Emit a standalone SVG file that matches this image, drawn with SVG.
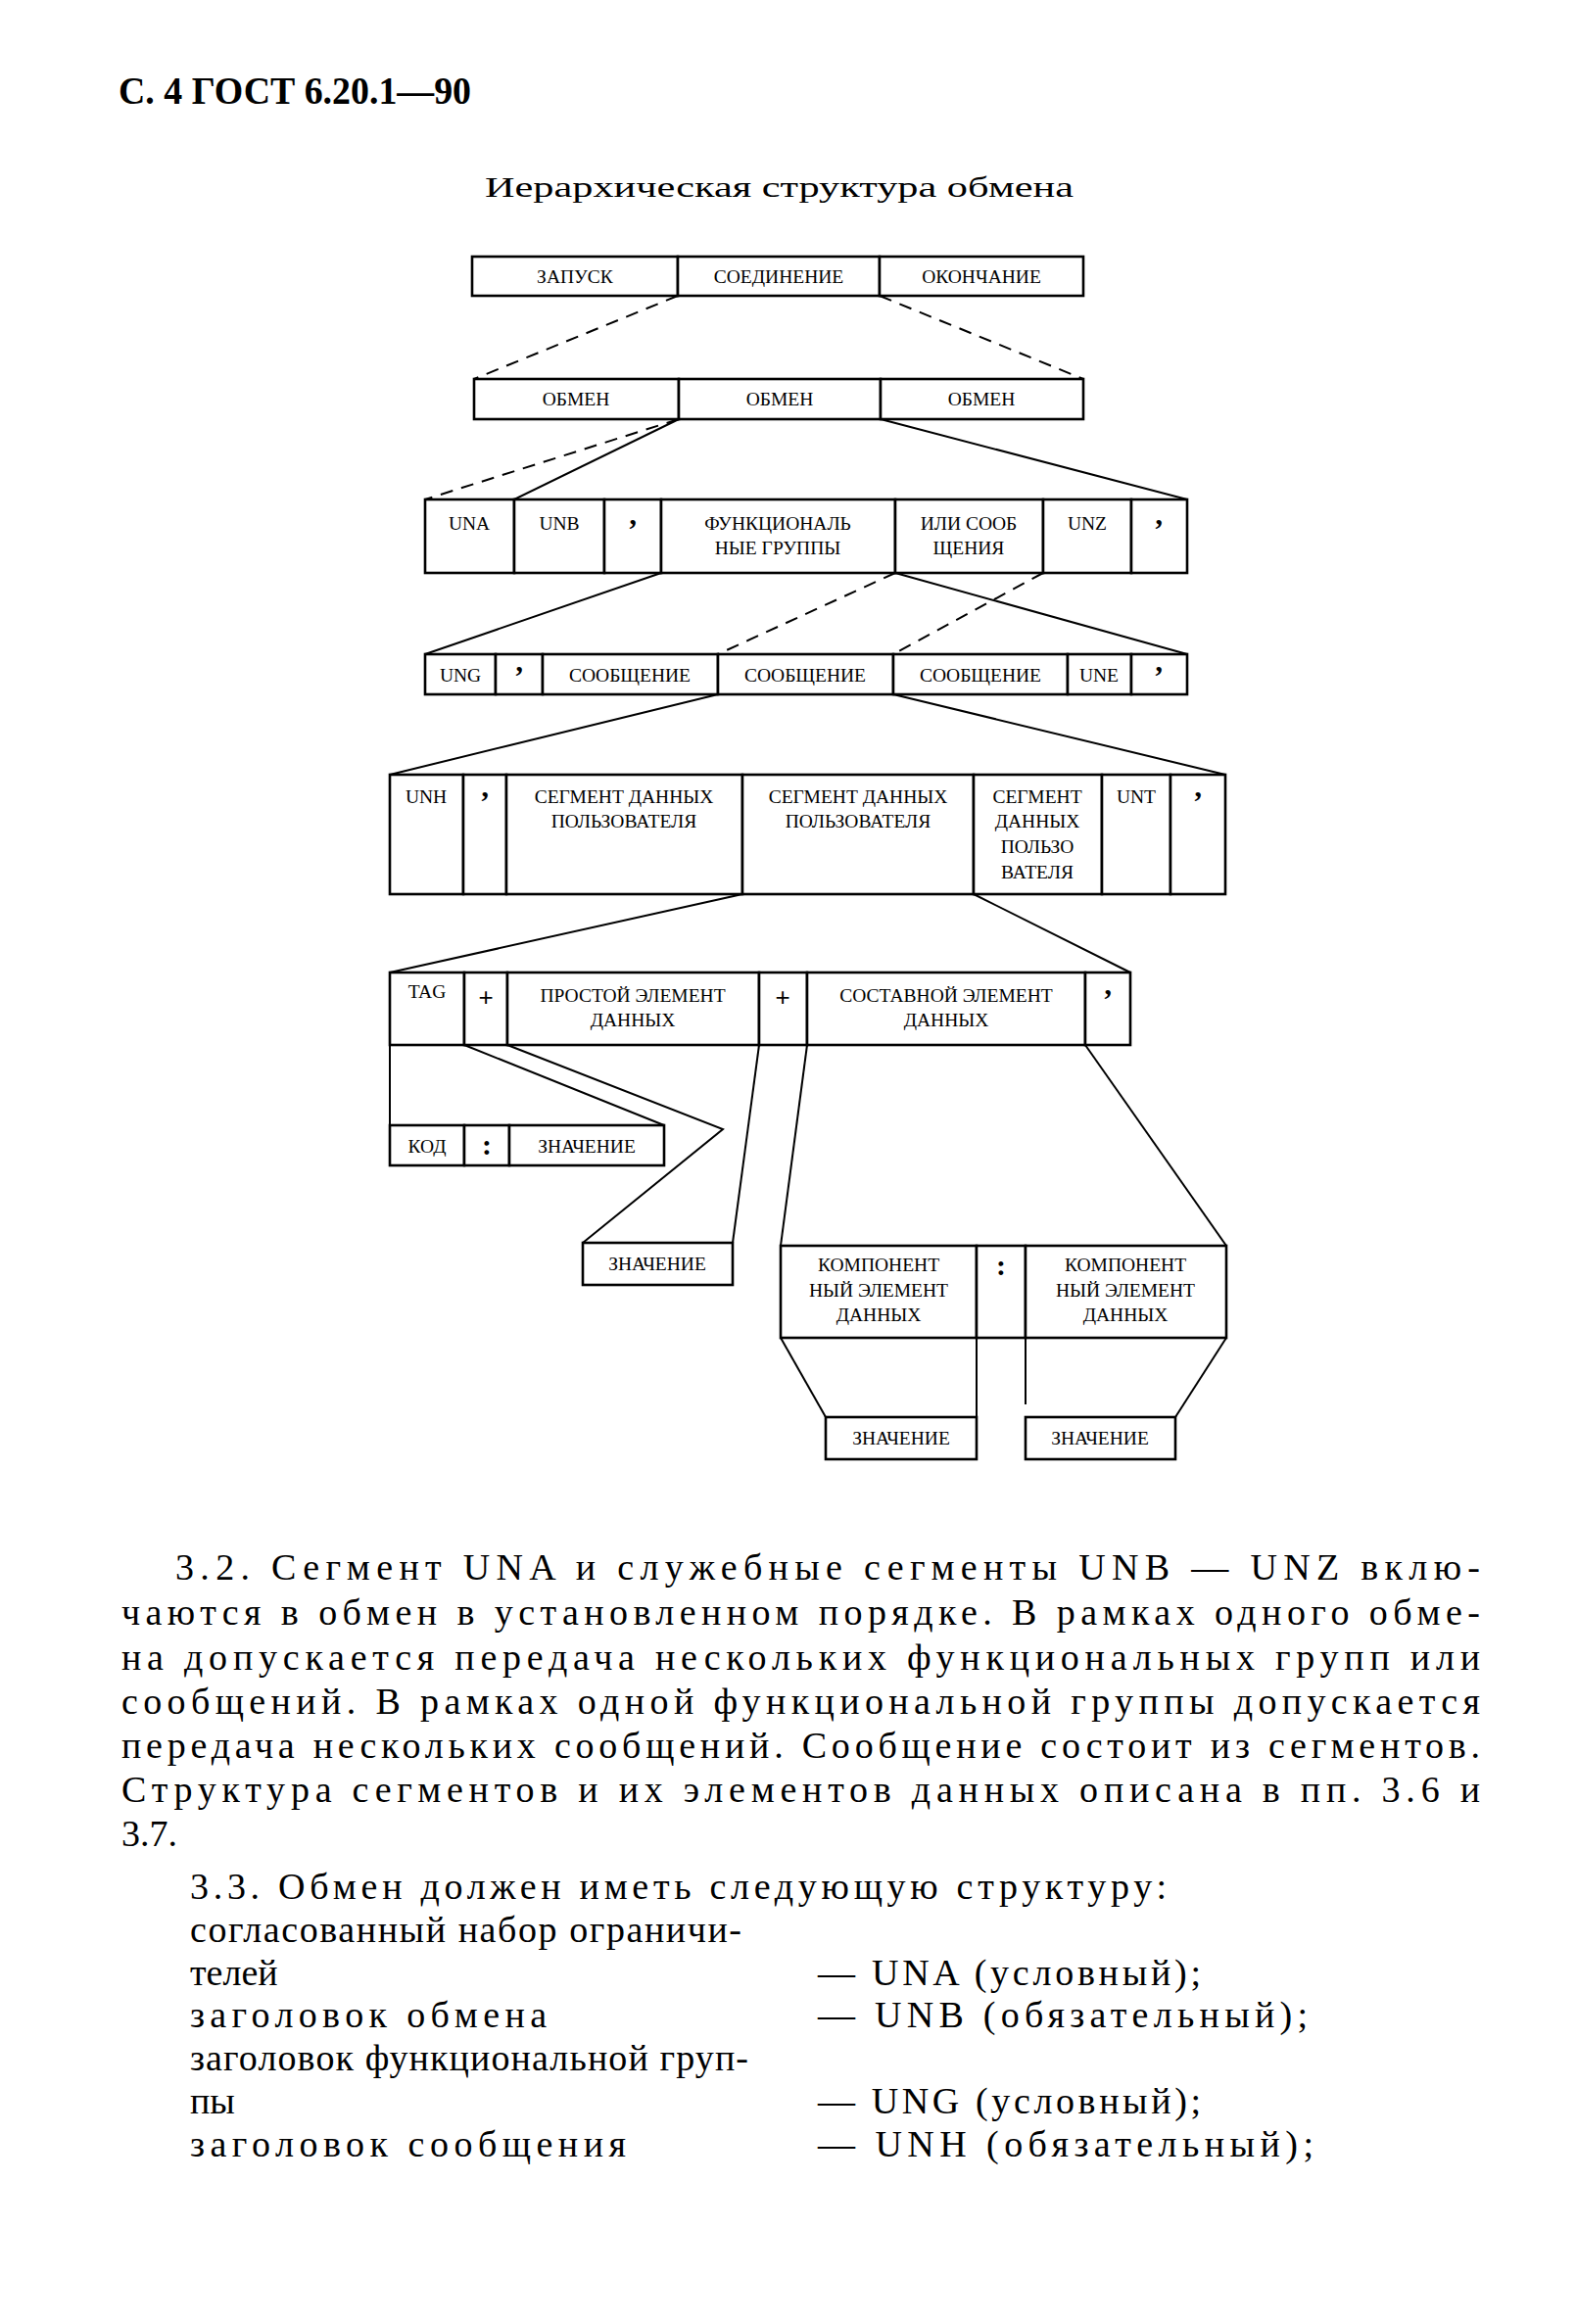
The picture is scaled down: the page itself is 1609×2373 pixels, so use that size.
<svg xmlns="http://www.w3.org/2000/svg" width="1609" height="2373" viewBox="0 0 1609 2373">
<style>
.bg{fill:#fff}
.c{fill:#fff;stroke:#000;stroke-width:2.6}
.l{font-family:"Liberation Serif","Times New Roman",serif;font-size:19.5px;fill:#000;text-anchor:middle}
.q{font-family:"Liberation Serif","Times New Roman",serif;font-size:30px;font-weight:bold;fill:#000;text-anchor:middle}
.pl{font-family:"Liberation Sans",Arial,sans-serif;font-size:26px;fill:#000;text-anchor:middle}
.s{stroke:#000;stroke-width:2;fill:none}
.d{stroke:#000;stroke-width:2;fill:none;stroke-dasharray:13 9}
.t{font-family:"Liberation Serif","Times New Roman",serif;font-size:38px;fill:#000}
.h{font-family:"Liberation Serif","Times New Roman",serif;font-size:40px;font-weight:bold;fill:#000}
.ti{font-family:"Liberation Serif","Times New Roman",serif;font-size:30px;fill:#000}
</style>
<rect class="bg" x="0" y="0" width="1609" height="2373"/>
<text class="h" x="121" y="106" textLength="360" lengthAdjust="spacingAndGlyphs">С. 4 ГОСТ 6.20.1—90</text>
<text class="ti" x="495" y="201" textLength="601" lengthAdjust="spacingAndGlyphs">Иерархическая структура обмена</text>

<g id="connectors">
<line class="d" x1="692" y1="302" x2="484" y2="387"/>
<line class="d" x1="898" y1="302" x2="1106" y2="387"/>
<line class="d" x1="693" y1="428" x2="434" y2="510"/>
<line class="s" x1="693" y1="428" x2="525" y2="510"/>
<line class="s" x1="899" y1="428" x2="1212" y2="510"/>
<line class="s" x1="675" y1="585" x2="434" y2="668"/>
<line class="d" x1="914" y1="585" x2="733" y2="668"/>
<line class="s" x1="914" y1="585" x2="1212" y2="668"/>
<line class="d" x1="1065" y1="585" x2="912" y2="668"/>
<line class="s" x1="733" y1="709" x2="398" y2="791"/>
<line class="s" x1="912" y1="709" x2="1251" y2="791"/>
<line class="s" x1="758" y1="913" x2="398" y2="993"/>
<line class="s" x1="994" y1="913" x2="1154" y2="993"/>
<line class="s" x1="398" y1="1067" x2="398" y2="1149"/>
<line class="s" x1="474" y1="1067" x2="678" y2="1149"/>
<polyline class="s" points="518,1067 738,1153 595,1269"/>
<line class="s" x1="775" y1="1067" x2="748" y2="1269"/>
<line class="s" x1="824" y1="1067" x2="797" y2="1272"/>
<line class="s" x1="1108" y1="1067" x2="1252" y2="1272"/>
<line class="s" x1="797" y1="1366" x2="843" y2="1447"/>
<line class="s" x1="997" y1="1366" x2="997" y2="1447"/>
<line class="s" x1="1047" y1="1366" x2="1047" y2="1434"/>
<line class="s" x1="1252" y1="1366" x2="1200" y2="1447"/>
</g>

<g id="row1">
<rect class="c" x="482" y="262" width="210" height="40"/><text class="l" x="587" y="289">ЗАПУСК</text>
<rect class="c" x="692" y="262" width="206" height="40"/><text class="l" x="795" y="289">СОЕДИНЕНИЕ</text>
<rect class="c" x="898" y="262" width="208" height="40"/><text class="l" x="1002" y="289">ОКОНЧАНИЕ</text>
</g>

<g id="row2">
<rect class="c" x="484" y="387" width="209" height="41"/><text class="l" x="588" y="414">ОБМЕН</text>
<rect class="c" x="693" y="387" width="206" height="41"/><text class="l" x="796" y="414">ОБМЕН</text>
<rect class="c" x="899" y="387" width="207" height="41"/><text class="l" x="1002" y="414">ОБМЕН</text>
</g>

<g id="row3">
<rect class="c" x="434" y="510" width="91" height="75"/><text class="l" x="479" y="541">UNA</text>
<rect class="c" x="525" y="510" width="92" height="75"/><text class="l" x="571" y="541">UNB</text>
<rect class="c" x="617" y="510" width="58" height="75"/><text class="q" x="646" y="550">’</text>
<rect class="c" x="675" y="510" width="239" height="75"/><text class="l" x="794" y="541">ФУНКЦИОНАЛЬ</text><text class="l" x="794" y="566">НЫЕ ГРУППЫ</text>
<rect class="c" x="914" y="510" width="151" height="75"/><text class="l" x="989" y="541">ИЛИ СООБ</text><text class="l" x="989" y="566">ЩЕНИЯ</text>
<rect class="c" x="1065" y="510" width="90" height="75"/><text class="l" x="1110" y="541">UNZ</text>
<rect class="c" x="1155" y="510" width="57" height="75"/><text class="q" x="1183" y="550">’</text>
</g>

<g id="row4">
<rect class="c" x="434" y="668" width="72" height="41"/><text class="l" x="470" y="696">UNG</text>
<rect class="c" x="506" y="668" width="48" height="41"/><text class="q" x="530" y="700">’</text>
<rect class="c" x="554" y="668" width="179" height="41"/><text class="l" x="643" y="696">СООБЩЕНИЕ</text>
<rect class="c" x="733" y="668" width="179" height="41"/><text class="l" x="822" y="696">СООБЩЕНИЕ</text>
<rect class="c" x="912" y="668" width="178" height="41"/><text class="l" x="1001" y="696">СООБЩЕНИЕ</text>
<rect class="c" x="1090" y="668" width="65" height="41"/><text class="l" x="1122" y="696">UNE</text>
<rect class="c" x="1155" y="668" width="57" height="41"/><text class="q" x="1183" y="700">’</text>
</g>

<g id="row5">
<rect class="c" x="398" y="791" width="75" height="122"/><text class="l" x="435" y="820">UNH</text>
<rect class="c" x="473" y="791" width="44" height="122"/><text class="q" x="495" y="828">’</text>
<rect class="c" x="517" y="791" width="241" height="122"/><text class="l" x="637" y="820">СЕГМЕНТ ДАННЫХ</text><text class="l" x="637" y="845">ПОЛЬЗОВАТЕЛЯ</text>
<rect class="c" x="758" y="791" width="236" height="122"/><text class="l" x="876" y="820">СЕГМЕНТ ДАННЫХ</text><text class="l" x="876" y="845">ПОЛЬЗОВАТЕЛЯ</text>
<rect class="c" x="994" y="791" width="131" height="122"/><text class="l" x="1059" y="820">СЕГМЕНТ</text><text class="l" x="1059" y="845">ДАННЫХ</text><text class="l" x="1059" y="871">ПОЛЬЗО</text><text class="l" x="1059" y="897">ВАТЕЛЯ</text>
<rect class="c" x="1125" y="791" width="70" height="122"/><text class="l" x="1160" y="820">UNT</text>
<rect class="c" x="1195" y="791" width="56" height="122"/><text class="q" x="1223" y="828">’</text>
</g>

<g id="row6">
<rect class="c" x="398" y="993" width="76" height="74"/><text class="l" x="436" y="1019">TAG</text>
<rect class="c" x="474" y="993" width="44" height="74"/><text class="pl" x="496" y="1027">+</text>
<rect class="c" x="518" y="993" width="257" height="74"/><text class="l" x="646" y="1023">ПРОСТОЙ ЭЛЕМЕНТ</text><text class="l" x="646" y="1048">ДАННЫХ</text>
<rect class="c" x="775" y="993" width="49" height="74"/><text class="pl" x="799" y="1027">+</text>
<rect class="c" x="824" y="993" width="284" height="74"/><text class="l" x="966" y="1023">СОСТАВНОЙ ЭЛЕМЕНТ</text><text class="l" x="966" y="1048">ДАННЫХ</text>
<rect class="c" x="1108" y="993" width="46" height="74"/><text class="q" x="1131" y="1030">’</text>
</g>

<g id="kod">
<rect class="c" x="398" y="1149" width="76" height="41"/><text class="l" x="436" y="1177">КОД</text>
<rect class="c" x="474" y="1149" width="46" height="41"/><text class="q" x="497" y="1179">:</text>
<rect class="c" x="520" y="1149" width="158" height="41"/><text class="l" x="599" y="1177">ЗНАЧЕНИЕ</text>
</g>

<g id="value-simple">
<rect class="c" x="595" y="1269" width="153" height="43"/><text class="l" x="671" y="1297">ЗНАЧЕНИЕ</text>
</g>

<g id="component">
<rect class="c" x="797" y="1272" width="200" height="94"/><text class="l" x="897" y="1298">КОМПОНЕНТ</text><text class="l" x="897" y="1324">НЫЙ ЭЛЕМЕНТ</text><text class="l" x="897" y="1349">ДАННЫХ</text>
<rect class="c" x="997" y="1272" width="50" height="94"/><text class="q" x="1022" y="1302">:</text>
<rect class="c" x="1047" y="1272" width="205" height="94"/><text class="l" x="1149" y="1298">КОМПОНЕНТ</text><text class="l" x="1149" y="1324">НЫЙ ЭЛЕМЕНТ</text><text class="l" x="1149" y="1349">ДАННЫХ</text>
</g>

<g id="value-left">
<rect class="c" x="843" y="1447" width="154" height="43"/><text class="l" x="920" y="1475">ЗНАЧЕНИЕ</text>
</g>
<g id="value-right">
<rect class="c" x="1047" y="1447" width="153" height="43"/><text class="l" x="1123" y="1475">ЗНАЧЕНИЕ</text>
</g>

<g id="body">
<text class="t" x="179" y="1613" textLength="1332" lengthAdjust="spacing">3.2. Сегмент UNA и служебные сегменты UNB — UNZ вклю-</text>
<text class="t" x="124" y="1659" textLength="1387" lengthAdjust="spacing">чаются в обмен в установленном порядке. В рамках одного обме-</text>
<text class="t" x="124" y="1705" textLength="1387" lengthAdjust="spacing">на допускается передача нескольких функциональных групп или</text>
<text class="t" x="124" y="1750" textLength="1387" lengthAdjust="spacing">сообщений. В рамках одной функциональной группы допускается</text>
<text class="t" x="124" y="1795" textLength="1387" lengthAdjust="spacing">передача нескольких сообщений. Сообщение состоит из сегментов.</text>
<text class="t" x="124" y="1840" textLength="1387" lengthAdjust="spacing">Структура сегментов и их элементов данных описана в пп. 3.6 и</text>
<text class="t" x="124" y="1885">3.7.</text>
<text class="t" x="194" y="1939" textLength="997" lengthAdjust="spacing">3.3. Обмен должен иметь следующую структуру:</text>
<text class="t" x="194" y="1983" textLength="563" lengthAdjust="spacing">согласованный набор ограничи-</text>
<text class="t" x="194" y="2027">телей</text>
<text class="t" x="835" y="2027" textLength="391" lengthAdjust="spacing">— UNA (условный);</text>
<text class="t" x="194" y="2070" textLength="364" lengthAdjust="spacing">заголовок обмена</text>
<text class="t" x="835" y="2070" textLength="500" lengthAdjust="spacing">— UNB (обязательный);</text>
<text class="t" x="194" y="2114" textLength="570" lengthAdjust="spacing">заголовок функциональной груп-</text>
<text class="t" x="194" y="2158">пы</text>
<text class="t" x="835" y="2158" textLength="391" lengthAdjust="spacing">— UNG (условный);</text>
<text class="t" x="194" y="2202" textLength="445" lengthAdjust="spacing">заголовок сообщения</text>
<text class="t" x="835" y="2202" textLength="506" lengthAdjust="spacing">— UNH (обязательный);</text>
</g>
</svg>
